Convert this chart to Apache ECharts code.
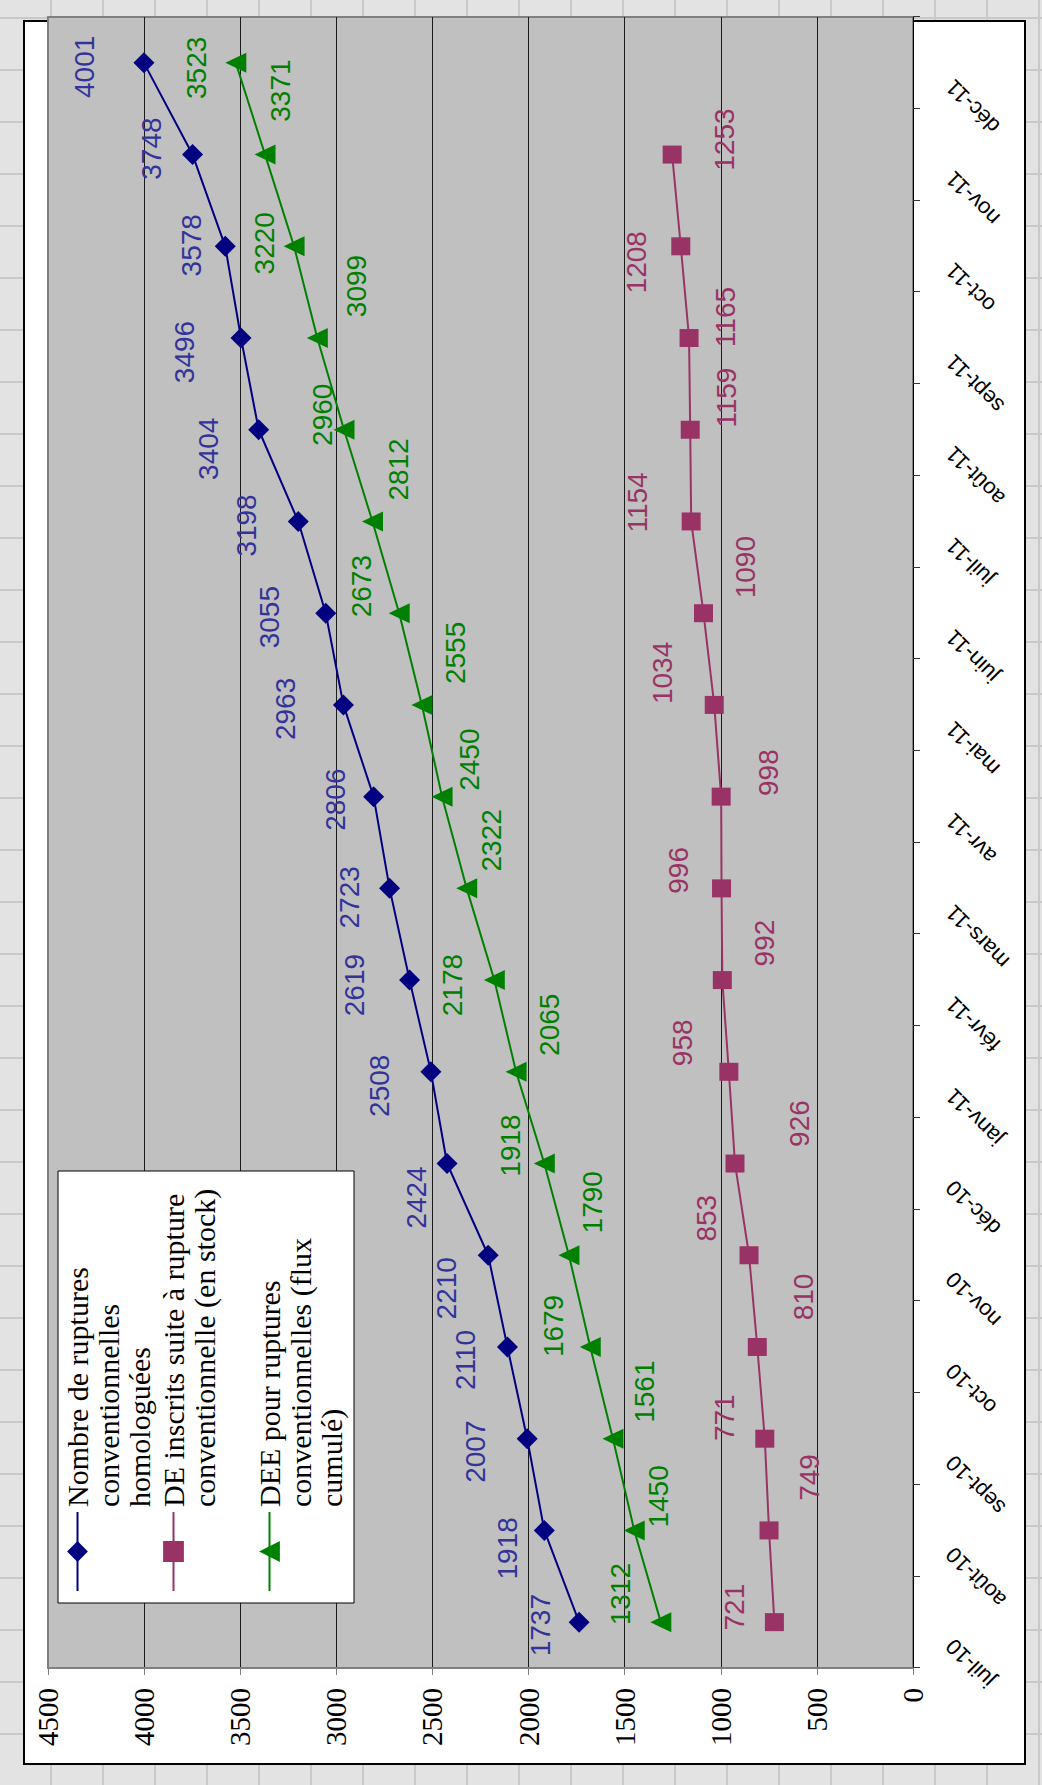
<!DOCTYPE html>
<html>
<head>
<meta charset="utf-8">
<script src="https://cdn.jsdelivr.net/npm/echarts@6/dist/echarts.min.js"></script>
<style>
html, body { margin: 0; padding: 0; width: 1042px; height: 1785px; overflow: hidden; }
body {
  background-color: #e3e3e3;
  background-image:
    repeating-linear-gradient(90deg, rgba(255,255,255,0) 0px, rgba(255,255,255,0) 50px, #c9c9c9 50px, #c9c9c9 52px),
    repeating-linear-gradient(0deg, rgba(255,255,255,0) 0px, rgba(255,255,255,0) 50px, #c9c9c9 50px, #c9c9c9 52px);
}
#frame { position: absolute; left: 0; top: 0; width: 1785px; height: 1042px;
  transform-origin: 0 0; transform: translateY(1785px) rotate(-90deg); }
#panel { position: absolute; left: 20px; top: 23px; width: 1745px; height: 1003px;
  box-sizing: border-box; background: #fff; border: 2px solid #000; }
#chart { position: absolute; left: 0; top: 0; width: 1785px; height: 1042px; }
</style>
</head>
<body>
<div id="frame"><div id="panel"></div><div id="chart"></div></div>
<script>
// ---- data ----
const categories = ['juil-10','août-10','sept-10','oct-10','nov-10','déc-10','janv-11','févr-11','mars-11','avr-11','mai-11','juin-11','juil-11','août-11','sept-11','oct-11','nov-11','déc-11'];
const ruptures = [1737,1918,2007,2110,2210,2424,2508,2619,2723,2806,2963,3055,3198,3404,3496,3578,3748,4001];
const inscrits = [721,749,771,810,853,926,958,992,996,998,1034,1090,1154,1159,1165,1208,1253];
const dee = [1312,1450,1561,1679,1790,1918,2065,2178,2322,2450,2555,2673,2812,2960,3099,3220,3371,3523];
const seriesNames = [
  'Nombre de ruptures conventionnelles homologuées',
  'DE inscrits suite à rupture conventionnelle (en stock)',
  'DEE pour ruptures conventionnelles (flux cumulé)'
];
const legendLines = [
  ['Nombre de ruptures', 'conventionnelles', 'homologuées'],
  ['DE inscrits suite à rupture', 'conventionnelle (en stock)'],
  ['DEE pour ruptures', 'conventionnelles (flux', 'cumulé)']
];
const valueMin = 0, valueMax = 4500, valueStep = 500;

// ---- label placement (offsets of each data label from its point) ----
const rupturesLabelOffset = [[-3,-39],[-18,-37],[-13,-52],[-13,-42],[-33,-42],[-34,-31],[-14,-51],[-5,-55],[-9,-40],[-3,-38],[-4,-58],[-4,-56],[-4,-52],[-19,-50],[-14,-56],[1,-34],[6,-41],[-4,-59]];
const inscritsLabelOffset = [[15,-40],[53,40],[21,-40],[50,46],[37,-43],[40,64],[29,-46],[37,42],[18,-43],[24,47],[32,-52],[46,42],[19,-54],[32,36],[21,36],[-16,-44],[15,52]];
const deeLabelOffset = [[28,-40],[34,24],[47,32],[21,-37],[53,24],[18,-34],[47,33],[-5,-42],[48,25],[37,27],[52,34],[27,-38],[52,26],[15,-22],[52,39],[3,-30],[64,15],[-5,-39]];

const SANS = "'Liberation Sans', Arial, sans-serif";
const SERIF = "'Liberation Serif', 'Times New Roman', serif";

function withOffsets(values, offsets) {
  return values.map((v, i) => ({ value: v, label: { offset: offsets[i] } }));
}
// legend text: blank lines above so that the symbol sits beside the first line
function legendText(lines) {
  return new Array(lines.length - 1).fill('').concat(lines).join('\n');
}

const chart = echarts.init(document.getElementById('chart'), null, { renderer: 'svg' });
chart.setOption({
  animation: false,
  backgroundColor: 'transparent',
  grid: { left: 117, right: 17, top: 48, bottom: 129, show: true,
          backgroundColor: '#c0c0c0', borderColor: '#808080', borderWidth: 2 },
  graphic: [{ type: 'rect', z: 3, shape: { x: 182, y: 58, width: 432, height: 296 },
              style: { fill: '#ffffff', stroke: '#000000', lineWidth: 1 } }],
  legend: {
    orient: 'vertical', left: 193, top: 0, padding: 0, itemGap: -28,
    itemWidth: 79, itemHeight: 26, selectedMode: false, z: 5,
    textStyle: { fontFamily: SERIF, fontSize: 30, lineHeight: 31, color: '#000' },
    data: seriesNames.slice(),
    formatter: name => legendText(legendLines[seriesNames.indexOf(name)])
  },
  xAxis: {
    type: 'category', data: categories, boundaryGap: true,
    axisLine: { lineStyle: { color: '#000', width: 1 } },
    axisTick: { show: true, length: 7, lineStyle: { color: '#333' } },
    axisLabel: { interval: 0, rotate: 45, margin: 16, padding: [0, 29, 0, 0],
                 fontFamily: SANS, fontSize: 22, color: '#000' },
    splitLine: { show: false }
  },
  yAxis: {
    type: 'value', min: valueMin, max: valueMax, interval: valueStep,
    axisLine: { show: true, lineStyle: { color: '#808080', width: 2 } },
    axisTick: { show: true, length: 7, lineStyle: { color: '#808080' } },
    axisLabel: { margin: 20, fontFamily: SERIF, fontSize: 29, color: '#000',
                 formatter: v => String(v) },
    splitLine: { show: true, showMinLine: false, showMaxLine: false, lineStyle: { color: '#1a1a1a', width: 1 } }
  },
  series: [
    { name: seriesNames[0], type: 'line', data: withOffsets(ruptures, rupturesLabelOffset),
      symbol: 'diamond', symbolSize: [21, 21],
      lineStyle: { color: '#000080', width: 2 }, itemStyle: { color: '#000080' },
      label: { show: true, position: 'inside', color: '#333399', fontFamily: SANS, fontSize: 28 } },
    { name: seriesNames[1], type: 'line', data: withOffsets(inscrits, inscritsLabelOffset),
      symbol: 'rect', symbolSize: [18, 19],
      lineStyle: { color: '#993366', width: 2 }, itemStyle: { color: '#993366' },
      label: { show: true, position: 'inside', color: '#993366', fontFamily: SANS, fontSize: 28 } },
    { name: seriesNames[2], type: 'line', data: withOffsets(dee, deeLabelOffset),
      symbol: 'triangle', symbolSize: [20, 21],
      lineStyle: { color: '#008000', width: 2 }, itemStyle: { color: '#008000' },
      label: { show: true, position: 'inside', color: '#008000', fontFamily: SANS, fontSize: 28 } }
  ]
});
</script>
</body>
</html>
